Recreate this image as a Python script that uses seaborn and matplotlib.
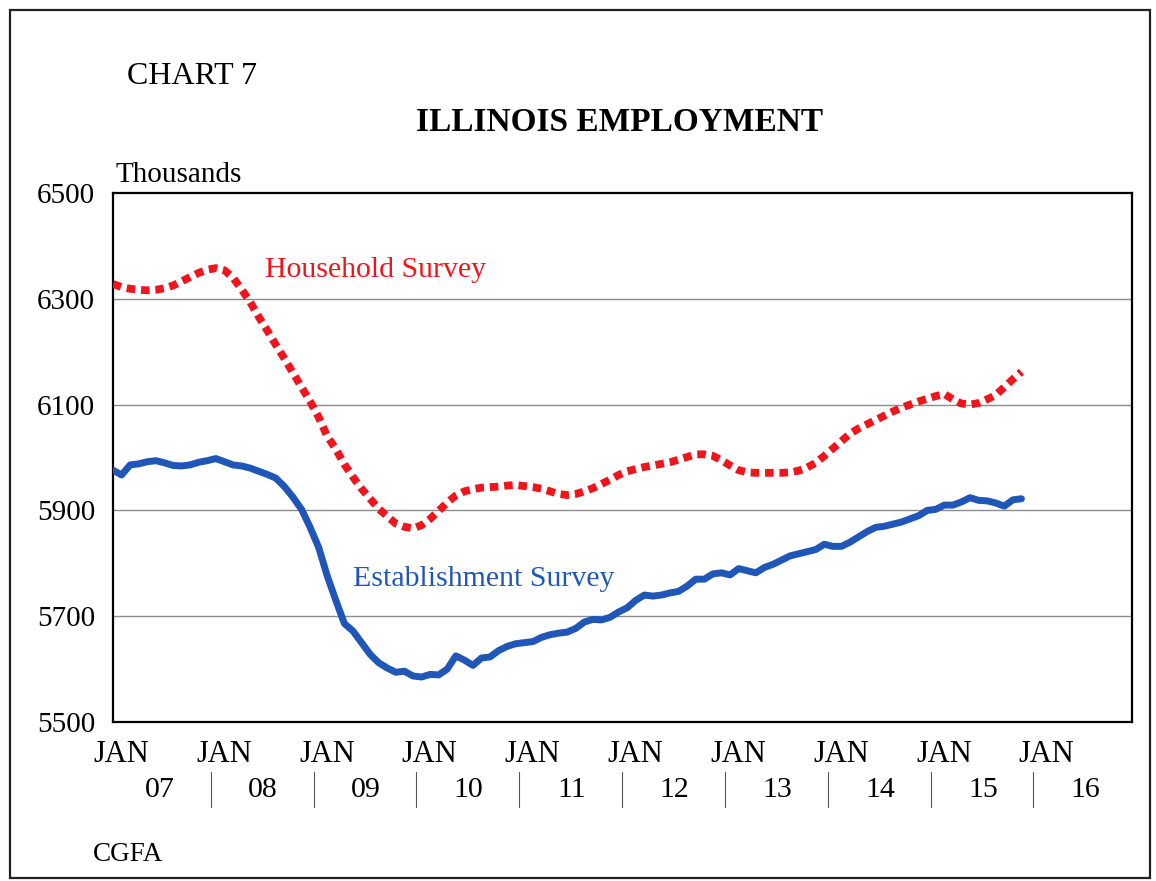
import numpy as np
import pandas as pd
import matplotlib
matplotlib.use("Agg")
import matplotlib.pyplot as plt
import matplotlib.transforms as mtransforms
from matplotlib.patches import Rectangle
import seaborn as sns

# Illinois employment, thousands, monthly from January 2007
establishment = [
    5976, 5967, 5986, 5988, 5992, 5994, 5990, 5985, 5984, 5986, 5991, 5994,
    5998, 5992, 5986, 5984, 5980, 5974, 5968, 5961, 5945, 5925, 5902, 5868,
    5830, 5776, 5730, 5686, 5672, 5650, 5628, 5612, 5602, 5594, 5596, 5587,
    5585, 5590, 5589, 5600, 5625, 5617, 5607, 5621, 5623, 5635, 5643, 5648,
    5650, 5652, 5660, 5665, 5668, 5670, 5677, 5689, 5694, 5693, 5698, 5708,
    5716, 5730, 5740, 5738, 5740, 5744, 5747, 5757, 5770, 5770, 5780, 5782,
    5778, 5790, 5786, 5782, 5792, 5798, 5806, 5814, 5818, 5822, 5826, 5836,
    5832, 5832, 5840, 5850, 5860, 5868, 5870, 5874, 5878, 5884, 5890, 5900,
    5902, 5910, 5910, 5916, 5924, 5919, 5918, 5914, 5908, 5920, 5922,
]
household = [
    6328, 6322, 6319, 6317, 6316, 6317, 6320, 6325, 6333, 6341, 6349, 6355,
    6358, 6354, 6340, 6318, 6294, 6266, 6240, 6213, 6187, 6160, 6133, 6106,
    6076, 6040, 6016, 5987, 5963, 5941, 5922, 5903, 5889, 5875, 5869, 5866,
    5872, 5884, 5899, 5915, 5928, 5936, 5940, 5943, 5944, 5945, 5947, 5948,
    5946, 5944, 5941, 5936, 5931, 5929, 5931, 5936, 5942, 5950, 5958, 5967,
    5974, 5978, 5982, 5985, 5988, 5991, 5996, 6001, 6006, 6006, 6003, 5995,
    5985, 5976, 5972, 5971, 5971, 5971, 5971, 5972, 5975, 5981, 5990, 6003,
    6017, 6031, 6045, 6055, 6063, 6071, 6079, 6087, 6094, 6100, 6106, 6111,
    6116, 6120, 6110, 6102, 6100, 6103, 6110, 6118, 6133, 6148, 6162,
]
years = ["07", "08", "09", "10", "11", "12", "13", "14", "15", "16"]
y_ticks = [5500, 5700, 5900, 6100, 6300, 6500]

months = np.arange(len(establishment))
df = pd.DataFrame({"month": months, "Establishment": establishment,
                   "Household": household})

sns.set_style("white")
plt.rcParams["font.family"] = ["Liberation Serif", "DejaVu Serif"]
plt.rcParams["text.color"] = "black"
plt.rcParams["ytick.color"] = "black"

W, H = 1156, 881
fig = plt.figure(figsize=(W / 100, H / 100), dpi=100)
ax = fig.add_axes([113 / W, 1 - 722 / H, (1132 - 113) / W, (722 - 193) / H])

blue = "#1f56b8"
red = "#f0141c"

sns.lineplot(data=df, x="month", y="Household", ax=ax, color=red,
             linewidth=5.6, zorder=3)
ax.lines[-1].set_linestyle((0, (1.1, 0.75)))
ax.lines[-1].set_dash_capstyle("butt")
sns.lineplot(data=df, x="month", y="Establishment", ax=ax, color=blue,
             linewidth=5.0, zorder=4, solid_joinstyle="round")

ax.set_xlim(0, 118.9)
ax.set_ylim(5500, 6500)
ax.set_yticks(y_ticks)
ax.set_yticklabels([str(v) for v in y_ticks], fontsize=21, color="black")
ax.tick_params(axis="y", length=0, pad=13)
ax.set_xticks([])
ax.set_xlabel("")
ax.set_ylabel("")

for v in y_ticks[1:-1]:
    ax.axhline(v, color="#8c8c8c", linewidth=1.0, zorder=1)

for s in ax.spines.values():
    s.set_color("black")
    s.set_linewidth(1.6)

# year axis: JAN markers, two-digit years and separators
tr = mtransforms.blended_transform_factory(ax.transData, ax.transAxes)
for k, yr in enumerate(years):
    ax.text(12 * k + 0.95, -0.062, "JAN", transform=tr, ha="center",
            va="center", fontsize=22, clip_on=False)
    ax.text(12 * k + 5.5, -0.128, yr, transform=tr, ha="center",
            va="center", fontsize=21.5, clip_on=False)
    if k > 0:
        ax.plot([12 * k - 0.6, 12 * k - 0.6], [-0.095, -0.161], transform=tr,
                color="#555555", linewidth=0.8, clip_on=False)

ax.text(17.7, 6355, "Household Survey", color=red, fontsize=21.5,
        ha="left", va="center")
ax.text(28.0, 5770, "Establishment Survey", color=blue, fontsize=21.5,
        ha="left", va="center")

fig.text(115 / W, 1 - 182 / H, "Thousands", fontsize=21, ha="left",
         va="baseline")
fig.text(127 / W, 1 - 84 / H, "CHART 7", fontsize=23, ha="left",
         va="baseline")
fig.text(620 / W, 1 - 131 / H, "ILLINOIS EMPLOYMENT", fontsize=24,
         fontweight="bold", ha="center", va="baseline")
fig.text(93 / W, 1 - 861 / H, "CGFA", fontsize=19.5, ha="left",
         va="baseline")

fig.patches.append(Rectangle((10 / W, 1 - 878 / H), 1140 / W, 868 / H,
                             transform=fig.transFigure, fill=False,
                             edgecolor="#222222", linewidth=1.6))

fig.savefig("out.png", dpi=100)
